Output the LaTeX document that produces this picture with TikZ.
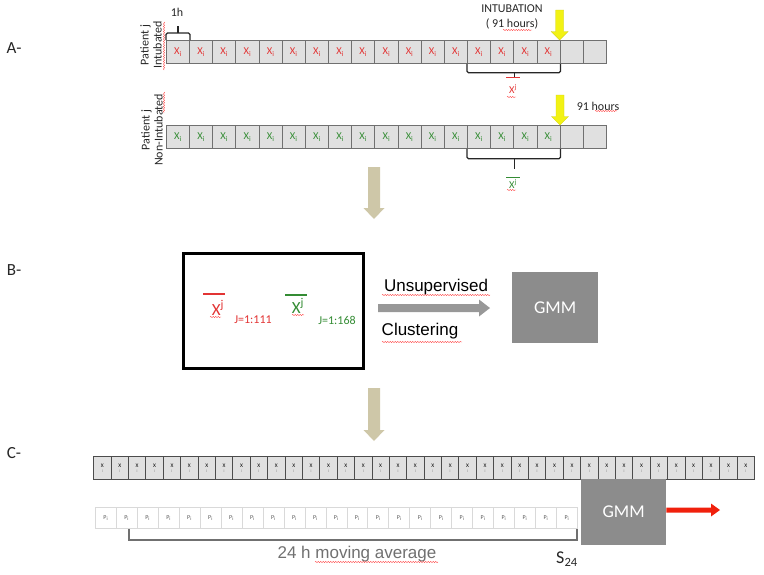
\documentclass[tikz,border=0pt]{standalone}
\usepackage{fontspec}
\setmainfont{Carlito}
\newfontfamily\arialf{Liberation Sans}
\usetikzlibrary{decorations.pathmorphing}
\definecolor{xred}{RGB}{226,52,52}
\definecolor{xgreen}{RGB}{52,140,52}
\definecolor{cellgray}{RGB}{224,224,224}
\definecolor{cellborder}{RGB}{112,112,112}
\definecolor{tanarr}{RGB}{206,199,168}
\definecolor{gmmgray}{RGB}{140,140,140}
\definecolor{arrowgray}{RGB}{152,152,152}
\definecolor{yel}{RGB}{242,242,20}
\definecolor{redarr}{RGB}{240,32,12}
\definecolor{txtgray}{RGB}{112,112,112}
\begin{document}
\begin{tikzpicture}[x=1pt,y=-1pt,
  cellA/.style={draw=cellborder, fill=cellgray, line width=0.8pt, minimum width=23.16pt, minimum height=23pt, inner sep=0pt, anchor=north west, font=\fontsize{10.5}{10.5}\selectfont},
  cellC/.style={draw=black!70, fill=cellgray, line width=0.8pt, minimum width=17.39pt, minimum height=23pt, inner sep=0pt, anchor=north west, align=center, font=\fontsize{5.5}{6}\selectfont},
  cellP/.style={draw=black!15, fill=white, line width=0.6pt, minimum width=20.96pt, minimum height=21pt, inner sep=0pt, anchor=north west, font=\fontsize{6}{6}\selectfont, text=black!65},
  brk/.style={draw=black!85, line width=1.2pt, rounded corners=1.5pt},
  spell/.style={draw=red!75, line width=0.4pt, decorate, decoration={snake, amplitude=0.6pt, segment length=2.5pt}},
  lab/.style={font=\fontsize{17}{20}\selectfont, text=black!85},
  small/.style={font=\fontsize{12}{14}\selectfont, text=black!85},
  gmm/.style={fill=gmmgray, text=white, anchor=north west, inner sep=0pt, font=\fontsize{18}{20}\selectfont},
  arial/.style={font=\arialf\fontsize{17}{20}\selectfont}
]
\useasboundingbox (0,0) rectangle (764,574);

% ---------- section labels
\node[lab] (labA) at (14,48) {A-};
\node[lab] (labB) at (14,270) {B-};
\node[lab] (labC) at (14,453) {C-};

% ---------- A : intubated row
\foreach \i in {0,...,16} {
  \node[cellA, text=xred] (a\i) at ({166+23.16*\i},40) {X\textsubscript{i}};
}
\foreach \i in {17,18} {
  \node[cellA] (a\i) at ({166+23.16*\i},40) {};
}
\node[small, rotate=90, align=center, font=\fontsize{12}{13}\selectfont] (patA) at (151,45) {Patient j\\Intubated};
\draw[spell] (164,22) -- (164,70);
% 1h brace
\draw[brk] (a0.north west) -- ++(0,-7) -| (a0.north east);
\draw[brk] (a0.north) ++(0,-7) -- ++(0,-7);
\node[small] (oneh) at (177,12) {1h};
% intubation marker
\node[small] (intub) at (512,9) {INTUBATION};
\node[small] (hrsA) at (512,24) {( 91 hours)};
\draw[spell] (503,30) -- (532,30);
\fill[yel, draw=yel!85!black, line width=0.3pt] (555.7,10) -- (563.7,10) -- (563.7,31.5) -- (568.2,31.5) -- (559.7,40) -- (551.2,31.5) -- (555.7,31.5) -- cycle;
% bracket + mean
\draw[brk] (a13.south west) -- ++(0,9) -| (a16.south east);
\draw[brk] (a14.south east) ++(0,9) -- ++(0,5);
\node[text=xred, font=\fontsize{10.5}{10.5}\selectfont, inner sep=1pt] (mA) at (513,89) {X\textsuperscript{j}};
\draw[xred, line width=0.9pt] (506,77.5) -- (520,77.5);
\draw[spell] (507,97) -- (516,97);

% ---------- A : non-intubated row
\foreach \i in {0,...,16} {
  \node[cellA, text=xgreen] (b\i) at ({166+23.16*\i},125) {X\textsubscript{i}};
}
\foreach \i in {17,18} {
  \node[cellA] (b\i) at ({166+23.16*\i},125) {};
}
\node[small, rotate=90, align=center, font=\fontsize{12}{13}\selectfont] (patB) at (152,130) {Patient j\\Non-Intubated};
\draw[spell] (164,92) -- (164,113);
\fill[yel, draw=yel!85!black, line width=0.3pt] (556,95) -- (564,95) -- (564,116.5) -- (568.5,116.5) -- (560,125) -- (551.5,116.5) -- (556,116.5) -- cycle;
\node[small] (hrsB) at (598,106) {91 hours};
\draw[spell] (595,111) -- (617,111);
\draw[brk] (b13.south west) -- ++(0,10) -| (b16.south east);
\draw[brk] (b14.south east) ++(0,10) -- ++(0,10);
\node[text=xgreen, font=\fontsize{10.5}{10.5}\selectfont, inner sep=1pt] (mB) at (513,184) {X\textsuperscript{j}};
\draw[xgreen, line width=0.9pt] (506,177) -- (520,177);
\draw[spell] (507,190) -- (516,190);

% ---------- tan arrows
\fill[tanarr] (368,167) -- (380,167) -- (380,208) -- (384.5,208) -- (374,219) -- (363.5,208) -- (368,208) -- cycle;
\fill[tanarr] (368,388) -- (380,388) -- (380,430) -- (384.5,430) -- (374,441) -- (363.5,430) -- (368,430) -- cycle;

% ---------- B
\node[draw=black, line width=3pt, minimum width=180pt, minimum height=115pt, anchor=north west, inner sep=0pt] (bbox) at (181.5,251.5) {};
\draw[xred, line width=1.5pt] (203,294) -- (225,294);
\node[text=xred, font=\fontsize{17}{18}\selectfont, inner sep=0pt] (xr) at (218,308) {X\textsuperscript{j}};
\draw[spell] (210,317) -- (221,317);
\node[text=xred, font=\fontsize{12}{13}\selectfont] (jr) at (253,320) {J=1:111};
\draw[xgreen, line width=1.5pt] (285,295) -- (307,295);
\node[text=xgreen, font=\fontsize{17}{18}\selectfont, inner sep=0pt] (xg) at (298,306) {X\textsuperscript{j}};
\draw[spell] (292,315) -- (304,315);
\node[text=xgreen, font=\fontsize{12}{13}\selectfont] (jg) at (337,320) {J=1:168};

\node[arial] (unsup) at (436,287) {Unsupervised};
\draw[spell] (382,295) -- (490,295);
\node[arial] (clus) at (420,331) {Clustering};
\draw[spell] (382,342) -- (462,342);
\node[gmm, minimum width=86pt, minimum height=71pt] (gmmB) at (512,272) {GMM};
\fill[arrowgray] (378,304) -- (479,304) -- (479,299.5) -- (490,308) -- (479,316.5) -- (479,312) -- (378,312) -- cycle;

% ---------- C : X row
\foreach \i in {0,...,37} {
  \node[cellC] (c\i) at ({93.3+17.39*\i},456) {X\\[-1pt]{\fontsize{4}{4}\selectfont\color{black!50}i}};
}
% P row
\foreach \i in {0,...,22} {
  \node[cellP] (p\i) at ({95+20.96*\i},507) {P\textsubscript{i}};
}
\node[gmm, minimum width=85pt, minimum height=66pt] (gmmC) at (581,479) {GMM};
\draw[draw=txtgray, line width=1.5pt] (129,529) -- (129,540) -- (577,540) -- (577,529);
\node[arial, text=txtgray] (mavg) at (357,554) {24 h moving average};
\draw[spell] (315,562) -- (438,562);
\node[font=\fontsize{18}{20}\selectfont, text=black!85] (s24) at (567,559) {S\textsubscript{24}};
\fill[redarr] (gmmC.east |- 0,507.5) -- (711,507.5) -- (711,503.5) -- (720,510) -- (711,516.5) -- (711,512.5) -- (gmmC.east |- 0,512.5) -- cycle;
\end{tikzpicture}
\end{document}
